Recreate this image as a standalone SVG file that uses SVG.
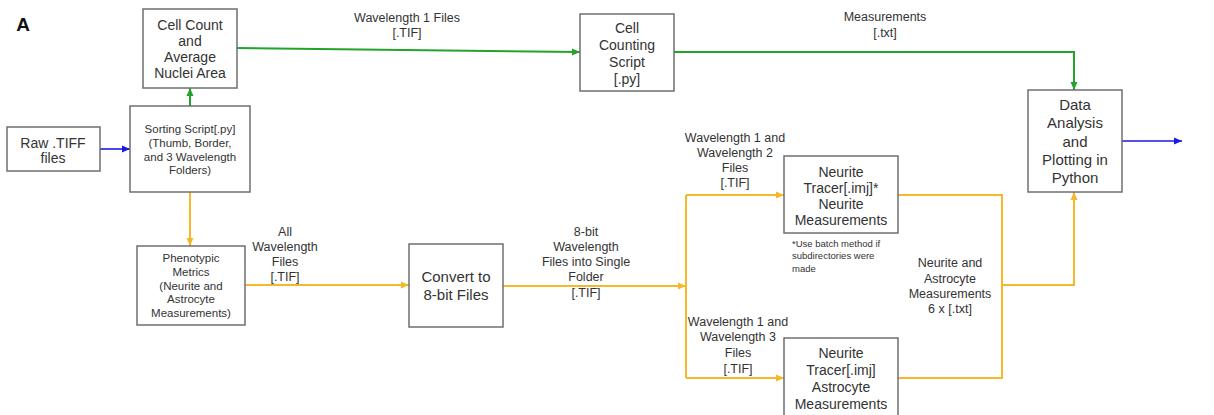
<svg xmlns="http://www.w3.org/2000/svg" width="1214" height="415" viewBox="0 0 1214 415">
<style>
  .box { fill: #ffffff; stroke: #6f6f6f; stroke-width: 1.5; }
  text { font-family: "Liberation Sans", Arial, sans-serif; fill: #333333; text-anchor: middle; }
  .t15 { font-size: 15px; }
  .t14 { font-size: 14px; }
  .t115 { font-size: 11.5px; }
  .lbl { font-size: 12.5px; }
  .note { font-size: 9.5px; text-anchor: start; }
  .g { stroke: #22a32a; stroke-width: 2; fill: none; }
  .o { stroke: #f5b82a; stroke-width: 2; fill: none; }
  .b { stroke: #1a1ae6; stroke-width: 1.6; fill: none; }
</style>
<defs>
  <marker id="ag" markerUnits="userSpaceOnUse" markerWidth="9" markerHeight="8" refX="8" refY="4" orient="auto"><path d="M0,0.5 L8,4 L0,7.5 z" fill="#22a32a"/></marker>
  <marker id="ao" markerUnits="userSpaceOnUse" markerWidth="9" markerHeight="8" refX="8" refY="4" orient="auto"><path d="M0,0.5 L8,4 L0,7.5 z" fill="#f5b82a"/></marker>
  <marker id="ab" markerUnits="userSpaceOnUse" markerWidth="9" markerHeight="8" refX="8" refY="4" orient="auto"><path d="M0,0.5 L8,4 L0,7.5 z" fill="#1a1ae6"/></marker>
</defs>
<rect width="1214" height="415" fill="#ffffff"/>
<text x="23" y="31" style="font-size:19px;font-weight:bold;fill:#111">A</text>

<g id="connectors">
  <path class="b" d="M100,149 L130,149" marker-end="url(#ab)"/>
  <path class="g" d="M190,106 L190,88" marker-end="url(#ag)"/>
  <path class="g" d="M237,48 L580,52" marker-end="url(#ag)"/>
  <path class="g" d="M674,52 L1074,52 L1074,90" marker-end="url(#ag)"/>
  <path class="o" d="M190,192 L190,246" marker-end="url(#ao)"/>
  <path class="o" d="M245,285 L409,285" marker-end="url(#ao)"/>
  <path class="o" d="M503,286 L686,286" marker-end="url(#ao)"/>
  <path class="o" d="M686,195 L686,378"/>
  <path class="o" d="M686,195 L784,195" marker-end="url(#ao)"/>
  <path class="o" d="M686,378 L784,378" marker-end="url(#ao)"/>
  <path class="o" d="M898,195 L1002,195 L1002,378 L898,378"/>
  <path class="o" d="M1002,285 L1074,285 L1074,192" marker-end="url(#ao)"/>
  <path class="b" d="M1122,141 L1182,141" marker-end="url(#ab)"/>
  <text class="lbl" x="407" y="22">Wavelength 1 Files</text>
  <text class="lbl" x="407" y="37">[.TIF]</text>
  <text class="lbl" x="885" y="21">Measurements</text>
  <text class="lbl" x="885" y="37">[.txt]</text>
  <text class="lbl" x="285" y="236">All</text>
  <text class="lbl" x="285" y="251">Wavelength</text>
  <text class="lbl" x="285" y="266">Files</text>
  <text class="lbl" x="285" y="281">[.TIF]</text>
  <text class="lbl" x="586" y="236">8-bit</text>
  <text class="lbl" x="586" y="251">Wavelength</text>
  <text class="lbl" x="586" y="266">Files into Single</text>
  <text class="lbl" x="586" y="281">Folder</text>
  <text class="lbl" x="586" y="297">[.TIF]</text>
  <text class="lbl" x="735" y="142">Wavelength 1 and</text>
  <text class="lbl" x="735" y="157">Wavelength 2</text>
  <text class="lbl" x="735" y="172">Files</text>
  <text class="lbl" x="735" y="187">[.TIF]</text>
  <text class="lbl" x="738" y="326">Wavelength 1 and</text>
  <text class="lbl" x="738" y="341">Wavelength 3</text>
  <text class="lbl" x="738" y="357">Files</text>
  <text class="lbl" x="738" y="373">[.TIF]</text>
  <text class="lbl" x="950" y="267">Neurite and</text>
  <text class="lbl" x="950" y="283">Astrocyte</text>
  <text class="lbl" x="950" y="298">Measurements</text>
  <text class="lbl" x="950" y="313">6 x [.txt]</text>
  <text class="note" x="792" y="247">*Use batch method if</text>
  <text class="note" x="792" y="259">subdirectories were</text>
  <text class="note" x="792" y="272">made</text>
</g>

<g id="raw">
  <rect class="box" x="7" y="127" width="93" height="44"/>
  <text class="t14" x="53" y="148">Raw .TIFF</text>
  <text class="t14" x="53" y="163">files</text>
</g>
<g id="cellcount">
  <rect class="box" x="143" y="9" width="94" height="79"/>
  <text class="t14" x="190" y="30">Cell Count</text>
  <text class="t14" x="190" y="46">and</text>
  <text class="t14" x="190" y="62">Average</text>
  <text class="t14" x="190" y="78">Nuclei Area</text>
</g>
<g id="sorting">
  <rect class="box" x="130" y="106" width="120" height="86"/>
  <text class="t115" x="190" y="133">Sorting Script[.py]</text>
  <text class="t115" x="190" y="147">(Thumb, Border,</text>
  <text class="t115" x="190" y="161">and 3 Wavelength</text>
  <text class="t115" x="190" y="174">Folders)</text>
</g>
<g id="phenotypic">
  <rect class="box" x="137" y="246" width="108" height="79"/>
  <text class="t115" x="191" y="262">Phenotypic</text>
  <text class="t115" x="191" y="276">Metrics</text>
  <text class="t115" x="191" y="290">(Neurite and</text>
  <text class="t115" x="191" y="303">Astrocyte</text>
  <text class="t115" x="191" y="317">Measurements)</text>
</g>
<g id="convert">
  <rect class="box" x="409" y="244" width="94" height="83"/>
  <text class="t15" x="456" y="282">Convert to</text>
  <text class="t15" x="456" y="300">8-bit Files</text>
</g>
<g id="cellcounting">
  <rect class="box" x="580" y="14" width="94" height="77"/>
  <text class="t14" x="627" y="33">Cell</text>
  <text class="t14" x="627" y="50">Counting</text>
  <text class="t14" x="627" y="67">Script</text>
  <text class="t14" x="627" y="84">[.py]</text>
</g>
<g id="neurite1">
  <rect class="box" x="784" y="156" width="114" height="77"/>
  <text class="t14" x="841" y="177">Neurite</text>
  <text class="t14" x="841" y="193">Tracer[.imj]*</text>
  <text class="t14" x="841" y="209">Neurite</text>
  <text class="t14" x="841" y="225">Measurements</text>
</g>
<g id="neurite2">
  <rect class="box" x="784" y="338" width="114" height="90"/>
  <text class="t14" x="841" y="358">Neurite</text>
  <text class="t14" x="841" y="375">Tracer[.imj]</text>
  <text class="t14" x="841" y="392">Astrocyte</text>
  <text class="t14" x="841" y="409">Measurements</text>
</g>
<g id="analysis">
  <rect class="box" x="1028" y="90" width="94" height="102"/>
  <text class="t15" x="1075" y="110">Data</text>
  <text class="t15" x="1075" y="128">Analysis</text>
  <text class="t15" x="1075" y="147">and</text>
  <text class="t15" x="1075" y="165">Plotting in</text>
  <text class="t15" x="1075" y="183">Python</text>
</g>
</svg>
